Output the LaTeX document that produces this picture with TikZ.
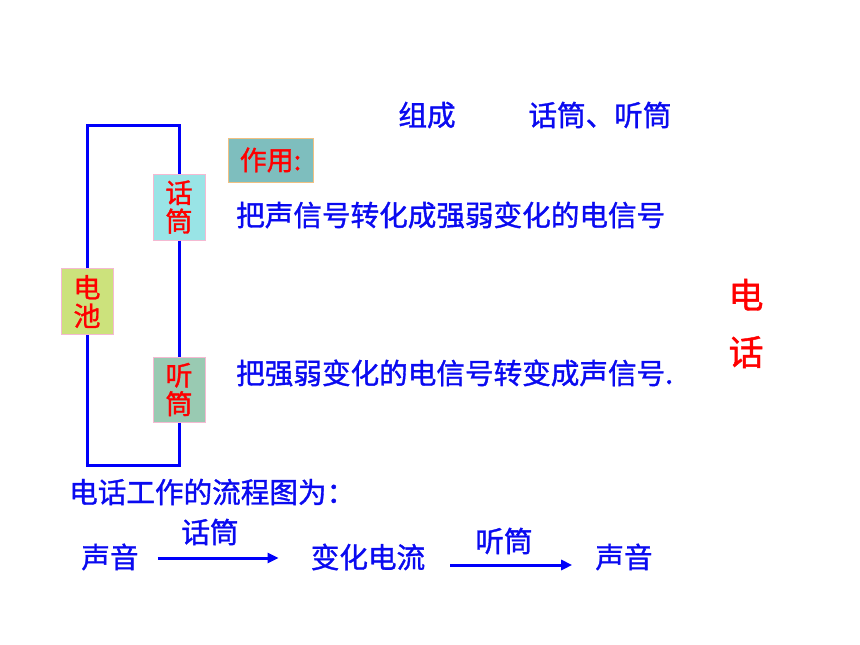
\documentclass[tikz,border=0pt]{standalone}
\usepackage{fontspec}
\setmainfont{Noto Sans CJK SC}[FakeBold=1.2]
\usepackage{xcolor}
\usetikzlibrary{arrows.meta}
\definecolor{wireblue}{RGB}{0,0,250}
\definecolor{textblue}{RGB}{10,10,240}
\definecolor{partpink}{RGB}{245,185,210}
\definecolor{micfill}{RGB}{153,228,230}
\definecolor{batfill}{RGB}{204,226,124}
\definecolor{earfill}{RGB}{153,202,178}
\definecolor{usefill}{RGB}{126,190,190}
\definecolor{useedge}{RGB}{240,192,130}
\begin{document}
\begin{tikzpicture}[x=1pt,y=-1pt,every text node part/.style={align=center}]
\tikzstyle{every node}+=[inner sep=0pt]
\tikzstyle{part}=[draw=partpink,line width=1pt,minimum width=52pt,minimum height=66pt,text=red,font=\fontsize{27}{28.5}\selectfont]
\tikzstyle{wire}=[wireblue,line width=3pt,line join=miter]
\tikzstyle{say}=[text=textblue,font=\fontsize{28.6}{30}\selectfont]
\tikzstyle{flow}=[wireblue,line width=3pt,-{Triangle[length=11pt,width=10pt]}]
\useasboundingbox (0,0) rectangle (860,645);
% circuit
\node [part,fill=batfill] (bat) at (87,301.5) {电\\池};
\node [part,fill=micfill] (mic) at (179,207) {话\\筒};
\node [part,fill=earfill,minimum height=65pt] (ear) at (179,389.5) {听\\筒};
\coordinate (tl) at (87,125);
\coordinate (tr) at (179,125);
\coordinate (bl) at (87,465);
\coordinate (br) at (179,465);
\draw [wire] (bat.north) -- (tl) -- (tr) -- (mic.north);
\draw [wire] (mic.south) -- (ear.north);
\draw [wire] (ear.south) -- (br) -- (bl) -- (bat.south);
% texts
\node [say] (make) at (427,115) {组成};
\node [say] (parts) at (600,115) {话筒、听筒};
\node [draw=useedge,line width=1pt,fill=usefill,minimum width=85pt,minimum height=44pt,text=red,font=\fontsize{27}{28}\selectfont] (use) at (270.5,160) {作用:};
\node [say,anchor=west] (micdo) at (236,215) {把声信号转化成强弱变化的电信号};
\node [say,anchor=west] (eardo) at (236,373) {把强弱变化的电信号转变成声信号.};
\node [text=red,font=\fontsize{35}{57}\selectfont] (phone) at (746,323.5) {电\\话};
\node [say,anchor=west] (title) at (69,492) {电话工作的流程图为：};
% flow
\node [say] (snd1) at (110,557) {声音};
\node [say] (cur) at (368,557) {变化电流};
\node [say] (snd2) at (624,557) {声音};
\draw [flow,shorten <=19pt,shorten >=32pt] ([yshift=-1pt]snd1.east) -- ([yshift=-1pt]cur.west);
\draw [flow,shorten <=25pt,shorten >=23pt] ([yshift=-8pt]cur.east) -- ([yshift=-8pt]snd2.west);
\node [say] (lab1) at (210,532) {话筒};
\node [say] (lab2) at (504,541) {听筒};
\end{tikzpicture}
\end{document}
